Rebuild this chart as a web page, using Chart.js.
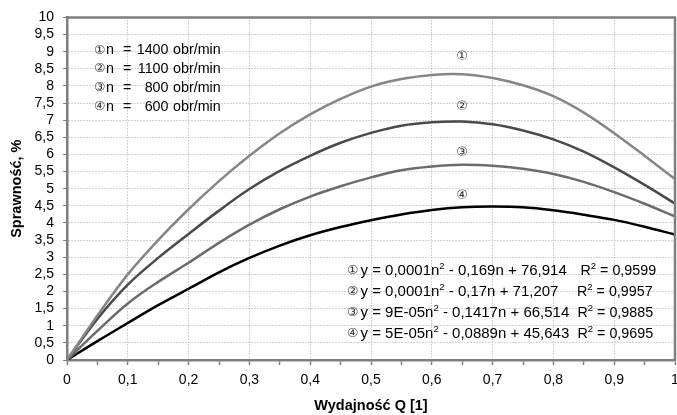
<!DOCTYPE html>
<html><head><meta charset="utf-8">
<script src="https://cdn.jsdelivr.net/npm/chart.js@4/dist/chart.umd.min.js"></script>
<style>html,body{margin:0;padding:0;background:#fff}</style>
</head><body>
<canvas id="c" width="677" height="415"></canvas>
<script>
// ---- data ----
const qValues = [0, 0.05, 0.1, 0.15, 0.2, 0.25, 0.3, 0.35, 0.4, 0.45, 0.5, 0.55, 0.6, 0.65, 0.7, 0.75, 0.8, 0.85, 0.9, 0.95, 1.0];
const eff1400 = [0, 1.3, 2.5, 3.5, 4.4, 5.22, 5.96, 6.62, 7.17, 7.62, 7.98, 8.2, 8.32, 8.34, 8.23, 8.02, 7.7, 7.22, 6.62, 5.96, 5.28];
const eff1100 = [0, 1.2, 2.2, 2.98, 3.68, 4.36, 4.99, 5.52, 5.96, 6.34, 6.63, 6.84, 6.94, 6.96, 6.88, 6.7, 6.44, 6.08, 5.62, 5.11, 4.57];
const eff800  = [0, 0.85, 1.65, 2.28, 2.84, 3.42, 3.95, 4.4, 4.77, 5.07, 5.33, 5.54, 5.65, 5.7, 5.67, 5.58, 5.43, 5.2, 4.9, 4.56, 4.19];
const eff600  = [0, 0.55, 1.08, 1.6, 2.08, 2.56, 2.98, 3.34, 3.64, 3.88, 4.08, 4.25, 4.38, 4.46, 4.48, 4.46, 4.37, 4.24, 4.09, 3.89, 3.66];
const speeds = ['1400', '1100', '800', '600'];
const marks = ['\u2460', '\u2461', '\u2462', '\u2463'];
const eqA = ['0,0001', '0,0001', '9E-05', '5E-05'];
const eqB = ['0,169', '0,17', '0,1417', '0,0889'];
const eqC = ['76,914', '71,207', '66,514', '45,643'];
const r2 = ['0,9599', '0,9957', '0,9885', '0,9695'];
const labelPos = [[0.65, 8.85], [0.65, 7.4], [0.65, 6.05], [0.65, 4.8]]; // curve markers (Q, value)
const xTitle = 'Wydajność Q [1]';
const yTitle = 'Sprawność, %';

const FONT = '"Liberation Sans", Arial, Helvetica, sans-serif';
const MFONT = '"DejaVu Sans", "Noto Sans CJK JP", sans-serif';
const fmt = v => String(Math.round(v * 100) / 100).replace('.', ',');
const pts = arr => arr.map((v, i) => ({x: qValues[i], y: v}));
const colors = ['#868686', '#4a4a4a', '#6c6c6c', '#000000'];
const series = [eff1400, eff1100, eff800, eff600];

const textPlugin = {
  id: 'texts',
  afterDatasetsDraw(chart) {
    const {ctx, chartArea: a, scales: {x, y}} = chart;
    ctx.save();
    // frame
    ctx.strokeStyle = '#7f7f7f';
    ctx.lineWidth = 2.5;
    ctx.beginPath();
    ctx.moveTo(a.left, a.top); ctx.lineTo(a.right, a.top); ctx.lineTo(a.right, a.bottom);
    ctx.stroke();
    ctx.textBaseline = 'middle';
    // curve markers
    ctx.textAlign = 'center';
    ctx.font = '13px ' + MFONT;
    ctx.fillStyle = '#333';
    labelPos.forEach((p, i) => ctx.fillText(marks[i], x.getPixelForValue(p[0]), y.getPixelForValue(p[1])));
    // speed legend
    const rowsY = [50.5, 69.2, 88, 106.7];
    speeds.forEach((s, i) => {
      const yy = rowsY[i];
      ctx.textAlign = 'left';
      ctx.fillStyle = '#333';
      ctx.font = '12.5px ' + MFONT;
      ctx.fillText(marks[i], 94, yy);
      ctx.fillStyle = '#000';
      ctx.font = '14.3px ' + FONT;
      ctx.fillText('n', 106, yy);
      ctx.fillText('=', 123, yy);
      ctx.textAlign = 'right';
      ctx.fillText(s, 168.5, yy);
      ctx.textAlign = 'left';
      ctx.fillText('obr/min', 173, yy);
    });
    // equations
    const eqY = [271, 292, 313, 334];
    const rX = [580.5, 577, 577.5, 577.5];
    const rich = (parts, x0, yy, size) => {
      let cx = x0;
      parts.forEach(([t, sup]) => {
        ctx.font = (sup ? '9.5px ' : size + 'px ') + FONT;
        ctx.fillText(t, cx, sup ? yy - 5 : yy);
        cx += ctx.measureText(t).width;
      });
    };
    ctx.textAlign = 'left';
    eqA.forEach((a2, i) => {
      const yy = eqY[i];
      ctx.fillStyle = '#333';
      ctx.font = '12.5px ' + MFONT;
      ctx.fillText(marks[i], 347, yy);
      ctx.fillStyle = '#000';
      rich([['y = ' + a2 + 'n', false], ['2', true], [' - ' + eqB[i] + 'n + ' + eqC[i], false]], 360.5, yy, 15);
      rich([['R', false], ['2', true], [' = ' + r2[i], false]], rX[i], yy, 14.3);
    });
    ctx.restore();
  }
};

new Chart(document.getElementById('c'), {
  type: 'line',
  data: {
    datasets: series.map((s, i) => ({
      label: 'n = ' + speeds[i] + ' obr/min',
      data: pts(s),
      borderColor: colors[i],
      borderWidth: 2.5,
      pointRadius: 0,
      fill: false,
      tension: 0.35
    }))
  },
  options: {
    responsive: false,
    animation: false,
    layout: {padding: {top: 16, right: 2, left: 0, bottom: 0}},
    plugins: {legend: {display: false}, tooltip: {enabled: false}},
    scales: {
      x: {
        type: 'linear', min: 0, max: 1,
        afterFit(s) { s.height = 55; s.paddingLeft = 0; s.paddingRight = 0; },
        ticks: {
          stepSize: 0.05, autoSkip: false, maxRotation: 0, padding: 7,
          color: '#000', font: {family: FONT, size: 14},
          callback: (v) => (Math.round(v * 100) % 10 === 0 ? fmt(v) : '')
        },
        grid: {
          color: (c) => (c.tick && Math.round(c.tick.value * 100) % 10 === 0 ? '#a8a8a8' : 'rgba(0,0,0,0)'),
          lineWidth: 1, tickColor: '#7f7f7f', tickLength: 5, tickWidth: 1.5
        },
        border: {display: true, color: '#7f7f7f', width: 2.5, dash: [1, 2]},
        title: {display: true, text: xTitle, color: '#000', font: {family: FONT, size: 14.5, weight: 'bold'}, padding: {top: 0, bottom: 0}}
      },
      y: {
        min: 0, max: 10,
        afterFit(s) { s.width = 67; },
        ticks: {stepSize: 0.5, autoSkip: false, padding: 9, color: '#000', font: {family: FONT, size: 14}, callback: (v) => fmt(v)},
        grid: {color: '#a8a8a8', lineWidth: 1, tickColor: '#7f7f7f', tickLength: 4, tickWidth: 1},
        border: {display: true, color: '#7f7f7f', width: 2.5, dash: [1, 2]},
        title: {display: true, text: yTitle, color: '#000', font: {family: FONT, size: 14.5, weight: 'bold'}, padding: {top: 8, bottom: 0}}
      }
    }
  },
  plugins: [textPlugin]
});
</script>
</body></html>
